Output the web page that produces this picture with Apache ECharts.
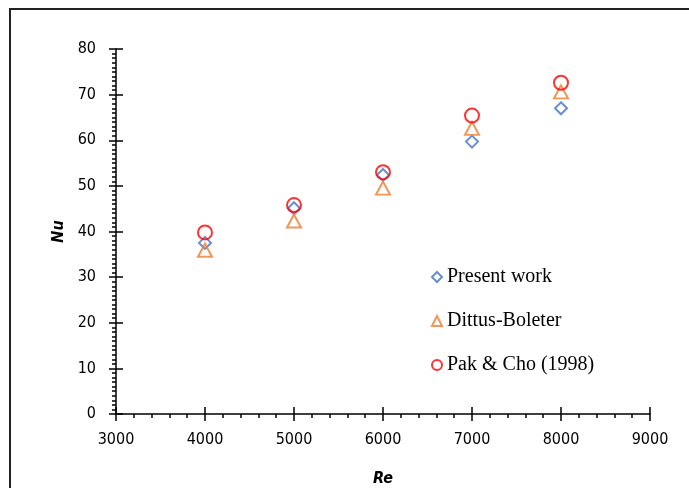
<!DOCTYPE html>
<html>
<head>
<meta charset="utf-8">
<script src="https://cdn.jsdelivr.net/npm/echarts@6/dist/echarts.min.js"></script>
<style>
  html, body { margin: 0; padding: 0; background: #fff; }
  #chart { width: 689px; height: 488px; }
</style>
</head>
<body>
<div id="chart"></div>
<script>
// Re values (x) and Nu values for each series
var reValues = [4000, 5000, 6000, 7000, 8000];
var presentWork = [37.5, 45.1, 52.4, 59.7, 67.0];
var dittusBoelter = [35.9, 42.3, 49.5, 62.6, 70.6];
var pakCho = [39.8, 45.8, 53.0, 65.4, 72.6];

var seriesNames = ['Present work', 'Dittus-Boleter', 'Pak & Cho (1998)'];

function pairs(ys) {
    return reValues.map(function (x, i) { return [x, ys[i]]; });
}

var labelFont = "'DejaVu Sans Condensed', 'Liberation Sans', sans-serif";

var chart = echarts.init(document.getElementById('chart'));

var option = {
    backgroundColor: '#fff',
    animation: false,
    graphic: [{
        type: 'rect',   // outer frame
        shape: { x: 10, y: 9, width: 720, height: 520 },
        style: { fill: 'none', stroke: '#222', lineWidth: 2 },
        silent: true
    }],
    grid: { left: 116, right: 39, top: 49, bottom: 74, outerBoundsMode: 'none', containLabel: false },
    legend: {
        orient: 'vertical',
        left: 426,
        top: 262,
        itemGap: 24,
        itemWidth: 10,
        itemHeight: 10,
        textStyle: { fontFamily: "'Liberation Serif', 'Times New Roman', serif", fontSize: 20, color: '#000' },
        data: seriesNames
    },
    xAxis: [{
        type: 'value',
        min: 3000, max: 9000, interval: 1000,
        name: 'Re',
        nameLocation: 'middle',
        nameGap: 57,
        nameTextStyle: { fontFamily: labelFont, fontSize: 16, fontWeight: 'bold', fontStyle: 'italic', color: '#000' },
        axisLine: { show: true, onZero: false, lineStyle: { color: '#000', width: 1.5 } },
        axisTick: { show: true, length: 7, lineStyle: { color: '#000', width: 1.5 } },
        minorTick: { show: true, splitNumber: 5, length: 4, lineStyle: { color: '#000', width: 1.5 } },
        axisLabel: { margin: 18, fontFamily: labelFont, fontSize: 16, color: '#000', formatter: function (v) { return String(v); } },
        splitLine: { show: false }
    }, {
        // second copy of the axis just for the inner half of the major ticks
        type: 'value',
        position: 'bottom',
        min: 3000, max: 9000, interval: 1000,
        axisLine: { show: false, onZero: false },
        axisTick: { show: true, inside: true, length: 7, lineStyle: { color: '#000', width: 1.5 } },
        axisLabel: { show: false },
        splitLine: { show: false }
    }],
    yAxis: [{
        type: 'value',
        min: 0, max: 80, interval: 10,
        name: 'Nu',
        nameLocation: 'middle',
        nameGap: 43,
        nameTextStyle: { fontFamily: labelFont, fontSize: 16, fontWeight: 'bold', fontStyle: 'italic', color: '#000' },
        axisLine: { show: true, onZero: false, lineStyle: { color: '#000', width: 1.5 } },
        axisTick: { show: true, length: 7, lineStyle: { color: '#000', width: 1.5 } },
        minorTick: { show: true, splitNumber: 10, length: 4, lineStyle: { color: '#000', width: 1.5 } },
        axisLabel: { margin: 20, fontFamily: labelFont, fontSize: 16, color: '#000' },
        splitLine: { show: false }
    }, {
        type: 'value',
        position: 'left',
        min: 0, max: 80, interval: 10,
        axisLine: { show: false, onZero: false },
        axisTick: { show: true, inside: true, length: 7, lineStyle: { color: '#000', width: 1.5 } },
        axisLabel: { show: false },
        splitLine: { show: false }
    }],
    series: [{
        name: seriesNames[0],
        type: 'scatter',
        symbol: 'diamond',
        symbolSize: 12,
        itemStyle: { color: 'rgba(255,255,255,0)', borderColor: '#4472C4', borderWidth: 2 },
        data: pairs(presentWork)
    }, {
        name: seriesNames[1],
        type: 'scatter',
        symbol: 'triangle',
        symbolSize: [14, 13],
        itemStyle: { color: 'rgba(255,255,255,0)', borderColor: '#ED7D31', borderWidth: 2 },
        data: pairs(dittusBoelter)
    }, {
        name: seriesNames[2],
        type: 'scatter',
        symbol: 'circle',
        symbolSize: 14,
        itemStyle: { color: 'rgba(255,255,255,0)', borderColor: '#FF0000', borderWidth: 2 },
        data: pairs(pakCho)
    }]
};

chart.setOption(option);
</script>
</body>
</html>
